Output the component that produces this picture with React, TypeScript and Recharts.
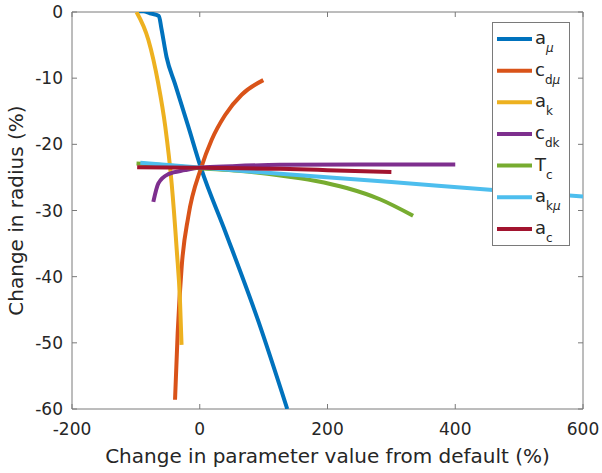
import { LineChart, Line, XAxis, YAxis, ReferenceArea } from 'recharts';

// plot geometry (page px)
const W = 602;
const H = 473;
const PL = 72;
const PR = 583;
const PT = 12;
const PB = 409;

const FONT = '"DejaVu Sans", sans-serif';
const TEXT = '#262626';
const AXIS = '#7a7a7a';

const xTicks = [-200, 0, 200, 400, 600];
const yTicks = [-60, -50, -40, -30, -20, -10, 0];

// a_mu
const aMuX = [-97, -88, -78, -64, -60, -52, -39, -18, 2, 40, 92, 137];
const aMuY = [0.1, 0.1, -0.2, -0.6, -2.5, -6.8, -10.8, -17.3, -23.6, -33.2, -46.8, -60];
// c_dmu
const cdMuX = [-38.7, -34.6, -28.3, -17.9, 2, 18.7, 39.5, 65.6, 99.5];
const cdMuY = [-58.6, -48.6, -38.5, -30.9, -23.6, -19.3, -15.6, -12.5, -10.3];
// a_k
const akX = [-99, -80.5, -65, -54, -44, -36, -31, -28.5];
const akY = [0, -4.2, -10.8, -17.3, -25.9, -36, -43.5, -50.3];
// c_dk
const cdkX = [-72.7, -64.8, -49.2, -23.1, 2, 50, 125, 250, 400];
const cdkY = [-28.7, -25.9, -24.5, -23.9, -23.5, -23.3, -23.1, -23.05, -23.05];
// T_c
const tcX = [-99, -50, 0, 60, 126, 180, 230, 282, 334];
const tcY = [-22.9, -23.2, -23.6, -24.0, -24.7, -25.5, -26.6, -28.3, -30.8];
// a_kmu
const akMuX = [-93, 0, 126, 300, 459, 600];
const akMuY = [-22.8, -23.5, -24.45, -25.7, -26.9, -27.9];
// a_c
const acX = [-98, 0, 126, 200, 300];
const acY = [-23.45, -23.55, -23.7, -23.9, -24.2];

const pts = (xs: number[], ys: number[]) => xs.map((x, i) => ({ x, y: ys[i] }));

const series = [
  { main: 'a', sub: 'μ', color: '#0072BD', data: pts(aMuX, aMuY) },
  { main: 'c', sub: 'dμ', color: '#D95319', data: pts(cdMuX, cdMuY) },
  { main: 'a', sub: 'k', color: '#EDB120', data: pts(akX, akY) },
  { main: 'c', sub: 'dk', color: '#7E2F8E', data: pts(cdkX, cdkY) },
  { main: 'T', sub: 'c', color: '#77AC30', data: pts(tcX, tcY) },
  { main: 'a', sub: 'kμ', color: '#4DBEEE', data: pts(akMuX, akMuY) },
  { main: 'a', sub: 'c', color: '#A2142F', data: pts(acX, acY) },
];

const XTick = (props: any) => {
  const { x, payload } = props;
  return (
    <g>
      <line x1={x} x2={x} y1={PB} y2={PB - 5} stroke={AXIS} />
      <line x1={x} x2={x} y1={PT} y2={PT + 5} stroke={AXIS} />
      <text x={x} y={435} textAnchor="middle" fontSize={17} fontFamily={FONT} fill={TEXT}>
        {payload.value}
      </text>
    </g>
  );
};

const YTick = (props: any) => {
  const { y, payload } = props;
  return (
    <g>
      <line x1={PL} x2={PL + 5} y1={y} y2={y} stroke={AXIS} />
      <line x1={PR} x2={PR - 5} y1={y} y2={y} stroke={AXIS} />
      <text x={63} y={y} dy="0.36em" textAnchor="end" fontSize={17} fontFamily={FONT} fill={TEXT}>
        {payload.value}
      </text>
    </g>
  );
};

const renderSub = (s: string) =>
  s.split('').map((ch, i) => (
    <tspan key={i} fontStyle={ch === 'μ' ? 'italic' : 'normal'}>{ch}</tspan>
  ));

function LegendBox() {
  return (
    <svg
      width={79}
      height={226}
      style={{ position: 'absolute', left: 491, top: 21, overflow: 'visible' }}
    >
      <rect x={1.5} y={1.5} width={77} height={223} fill="#fff" stroke={AXIS} />
      {series.map((s, i) => {
        const cy = 18 + i * 31.65;
        return (
          <g key={i}>
            <line x1={6} x2={41} y1={cy} y2={cy} stroke={s.color} strokeWidth={4} />
            <text x={44} y={cy + 5} fontSize={18} fontFamily={FONT} fill={TEXT}>
              {s.main}
              <tspan dy={8} fontSize={12}>{renderSub(s.sub)}</tspan>
            </text>
          </g>
        );
      })}
    </svg>
  );
}

export default function App() {
  return (
    <div style={{ position: 'absolute', left: 0, top: 0, width: W, height: H, background: '#fff' }}>
      <LineChart width={W} height={H} margin={{ top: PT, right: W - PR, bottom: 0, left: 0 }}>
        <XAxis
          dataKey="x"
          type="number"
          domain={[-200, 600]}
          ticks={xTicks}
          allowDataOverflow
          height={H - PB}
          axisLine={false}
          tickLine={false}
          tick={<XTick />}
          label={{
            value: 'Change in parameter value from default (%)',
            position: 'insideBottom',
            offset: 10,
            fontSize: 20,
            fontFamily: FONT,
            fill: TEXT,
          }}
        />
        <YAxis
          type="number"
          domain={[-60, 0]}
          ticks={yTicks}
          allowDataOverflow
          width={PL}
          axisLine={false}
          tickLine={false}
          tick={<YTick />}
          label={() => (
            <text
              x={23}
              y={(PT + PB) / 2}
              transform={`rotate(-90, 23, ${(PT + PB) / 2})`}
              textAnchor="middle"
              fontSize={20}
              fontFamily={FONT}
              fill={TEXT}
            >
              Change in radius (%)
            </text>
          )}
        />
        <ReferenceArea x1={-200} x2={600} y1={-60} y2={0} fill="none" stroke={AXIS} strokeWidth={1} />
        {series.map((s, i) => (
          <Line
            key={i}
            data={s.data}
            dataKey="y"
            type="monotone"
            stroke={s.color}
            strokeWidth={4}
            dot={false}
            activeDot={false}
            isAnimationActive={false}
          />
        ))}
      </LineChart>
      <LegendBox />
    </div>
  );
}
